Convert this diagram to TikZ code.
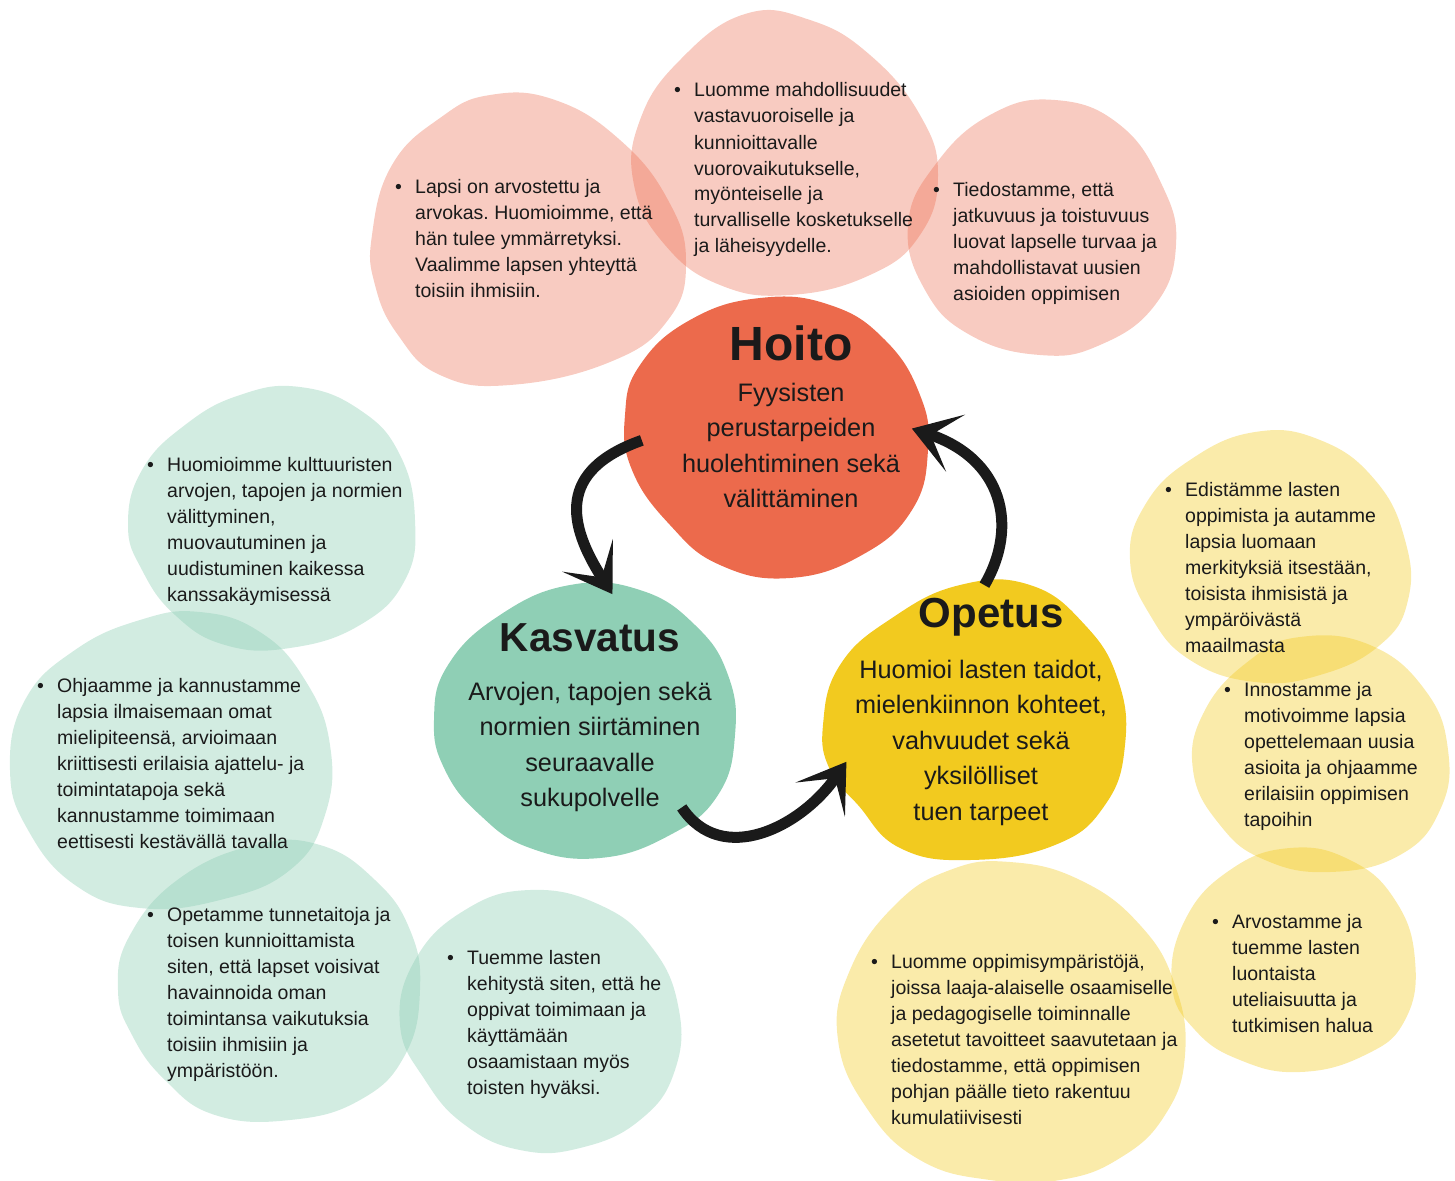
\documentclass[tikz,border=0pt]{standalone}
\usepackage{fontspec}
\setmainfont{Liberation Sans}
\usepackage{tikz}
\usetikzlibrary{arrows.meta}
\frenchspacing
\definecolor{hoitoc}{HTML}{EC6A4C}
\definecolor{kasvatusc}{HTML}{8FCFB5}
\definecolor{opetusc}{HTML}{F2CA1F}
\definecolor{ink}{HTML}{1A1A1A}
\tikzstyle{core} = [circle, inner sep=0pt]
\tikzstyle{title} = [anchor=base, inner sep=0pt, text=ink,
	font=\fontsize{42}{42}\selectfont\bfseries]
\tikzstyle{body} = [anchor=base, inner sep=0pt, text=ink,
	font=\fontsize{25.3}{35.5}\selectfont]
\tikzstyle{note} = [anchor=base west, inner sep=0pt, text=ink,
	font=\fontsize{19.5}{26}\selectfont]
\tikzstyle{brush} = [line width=11pt, draw=ink,
	-{Stealth[length=46pt, width=60pt, inset=26pt]}]
\newcommand{\drawblob}[2]{\fill[#1] plot[smooth cycle, tension=0.75] coordinates {#2}}
\newcommand{\bul}[1]{\makebox[20pt][l]{\textbullet}\begin{tabular}[t]{@{}l@{}}#1\end{tabular}}
\newcommand{\centerlines}[1]{\begin{tabular}[t]{@{}c@{}}#1\end{tabular}}

\begin{document}
\begin{tikzpicture}[x=1pt, y=-1pt]
			\useasboundingbox (0,0) rectangle (1455,1180);
			
			%kuplat
			\drawblob{hoitoc, fill opacity=0.35}{(372,235) (392,165) (440,118) (490,95) (555,100) (620,140) (668,200) (686,262) (668,320) (610,362) (510,385) (440,375) (398,335) (375,285)};
			\drawblob{hoitoc, fill opacity=0.35}{(640,120) (680,60) (745,14) (810,20) (870,55) (920,115) (938,175) (920,235) (870,275) (790,295) (720,285) (665,245) (634,185)};
			\drawblob{hoitoc, fill opacity=0.35}{(908,225) (935,165) (990,115) (1055,100) (1120,125) (1162,185) (1176,245) (1155,305) (1100,345) (1040,355) (970,335) (925,290)};
			
			\drawblob{kasvatusc, fill opacity=0.4}{(128,525) (142,470) (185,425) (240,395) (300,387) (360,410) (400,455) (415,520) (405,580) (360,625) (290,648) (225,645) (175,615) (142,570)};
			\drawblob{kasvatusc, fill opacity=0.4}{(10,770) (25,700) (75,650) (140,620) (200,612) (260,632) (305,680) (330,745) (325,815) (290,870) (220,900) (140,908) (75,885) (28,830)};
			\drawblob{kasvatusc, fill opacity=0.4}{(118,990) (130,935) (180,878) (255,845) (320,845) (375,880) (410,930) (420,990) (405,1055) (360,1100) (290,1120) (215,1115) (165,1080) (132,1035)};
			\drawblob{kasvatusc, fill opacity=0.4}{(400,1025) (415,960) (465,910) (530,890) (600,905) (650,945) (678,1005) (675,1070) (640,1120) (580,1148) (520,1150) (465,1125) (425,1080)};
			
			\drawblob{opetusc, fill opacity=0.38}{(1130,560) (1145,505) (1190,460) (1255,432) (1320,440) (1375,480) (1405,540) (1408,600) (1380,645) (1320,675) (1255,682) (1190,660) (1150,615)};
			\drawblob{opetusc, fill opacity=0.38}{(1193,770) (1205,710) (1250,660) (1300,637) (1370,645) (1425,690) (1448,750) (1440,810) (1400,855) (1330,872) (1265,860) (1220,825)};
			\drawblob{opetusc, fill opacity=0.38}{(838,1040) (850,970) (895,905) (950,870) (1010,862) (1080,880) (1140,925) (1175,985) (1185,1055) (1165,1115) (1120,1158) (1060,1180) (990,1180) (920,1160) (868,1110)};
			\drawblob{opetusc, fill opacity=0.38}{(1172,985) (1185,920) (1230,870) (1290,848) (1350,860) (1395,900) (1415,960) (1405,1020) (1365,1055) (1300,1072) (1240,1060) (1195,1030)};
			
			%keskusta
			\drawblob{hoitoc}{(625,415) (640,365) (690,320) (760,298) (830,305) (885,340) (920,395) (928,450) (912,510) (862,555) (790,578) (720,565) (670,525) (632,470)};
			\drawblob{kasvatusc}{(434,720) (448,665) (500,615) (570,585) (640,590) (695,625) (728,675) (735,735) (718,795) (670,835) (600,858) (530,848) (480,815) (445,770)};
			\drawblob{opetusc}{(823,725) (840,665) (892,618) (960,585) (1030,585) (1085,625) (1118,680) (1125,745) (1105,805) (1055,845) (970,860) (900,848) (858,805) (830,770)};
			
			\node (hoito) [core, minimum size=270pt] at (777,438) {};
			\node (kasvatus) [core, minimum size=256pt] at (588,720) {};
			\node (opetus) [core, minimum size=270pt] at (975,720) {};
			
			\node (hoitot) [title, font=\fontsize{48}{48}\selectfont\bfseries] at (791,360) {Hoito};
			\node (hoitob) [body] at (791,401) {\centerlines{Fyysisten\\perustarpeiden\\huolehtiminen sekä\\välittäminen}};
			\node (kasvatust) [title, font=\fontsize{40.5}{42}\selectfont\bfseries] at (590,651) {Kasvatus};
			\node (kasvatusb) [body] at (590,700) {\centerlines{Arvojen, tapojen sekä\\normien siirtäminen\\seuraavalle\\sukupolvelle}};
			\node (opetust) [title] at (991,627) {Opetus};
			\node (opetusb) [body] at (981,678) {\centerlines{Huomioi lasten taidot,\\mielenkiinnon kohteet,\\vahvuudet sekä\\yksilölliset\\tuen tarpeet}};
			
			%nuolet
			\draw [brush] (hoito.181) .. controls +(-85,30) and +(-45,-70) .. (kasvatus.79);
			\draw [brush] (kasvatus.-43) .. controls +(40,60) and +(-45,65) .. (opetus.198);
			\draw [brush] (opetus.86) .. controls +(35,-60) and +(90,30) .. (hoito.4);
			
			%tekstit
			\node (lapsi) [note] at (395,193) {\bul{Lapsi on arvostettu ja\\arvokas. Huomioimme, että\\hän tulee ymmärretyksi.\\Vaalimme lapsen yhteyttä\\toisiin ihmisiin.}};
			\node (luomme) [note] at (674,97) {\bul{Luomme mahdollisuudet\\vastavuoroiselle ja\\kunnioittavalle\\vuorovaikutukselle,\\myönteiselle ja\\turvalliselle kosketukselle\\ja läheisyydelle.}};
			\node (tiedostamme) [note] at (933,196) {\bul{Tiedostamme, että\\jatkuvuus ja toistuvuus\\luovat lapselle turvaa ja\\mahdollistavat uusien\\asioiden oppimisen}};
			
			\node (huomioimme) [note] at (147,471) {\bul{Huomioimme kulttuuristen\\arvojen, tapojen ja normien\\välittyminen,\\muovautuminen ja\\uudistuminen kaikessa\\kanssakäymisessä}};
			\node (ohjaamme) [note] at (37,692) {\bul{Ohjaamme ja kannustamme\\lapsia ilmaisemaan omat\\mielipiteensä, arvioimaan\\kriittisesti erilaisia ajattelu- ja\\toimintatapoja sekä\\kannustamme toimimaan\\eettisesti kestävällä tavalla}};
			\node (opetamme) [note] at (147,921) {\bul{Opetamme tunnetaitoja ja\\toisen kunnioittamista\\siten, että lapset voisivat\\havainnoida oman\\toimintansa vaikutuksia\\toisiin ihmisiin ja\\ympäristöön.}};
			\node (tuemme) [note] at (447,964) {\bul{Tuemme lasten\\kehitystä siten, että he\\oppivat toimimaan ja\\käyttämään\\osaamistaan myös\\toisten hyväksi.}};
			
			\node (edistamme) [note] at (1165,496) {\bul{Edistämme lasten\\oppimista ja autamme\\lapsia luomaan\\merkityksiä itsestään,\\toisista ihmisistä ja\\ympäröivästä\\maailmasta}};
			\node (innostamme) [note] at (1224,696) {\bul{Innostamme ja\\motivoimme lapsia\\opettelemaan uusia\\asioita ja ohjaamme\\erilaisiin oppimisen\\tapoihin}};
			\node (ymparistot) [note] at (871,968) {\bul{Luomme oppimisympäristöjä,\\joissa laaja-alaiselle osaamiselle\\ja pedagogiselle toiminnalle\\asetetut tavoitteet saavutetaan ja\\tiedostamme, että oppimisen\\pohjan päälle tieto rakentuu\\kumulatiivisesti}};
			\node (arvostamme) [note] at (1212,928) {\bul{Arvostamme ja\\tuemme lasten\\luontaista\\uteliaisuutta ja\\tutkimisen halua}};
		\end{tikzpicture}
\end{document}
